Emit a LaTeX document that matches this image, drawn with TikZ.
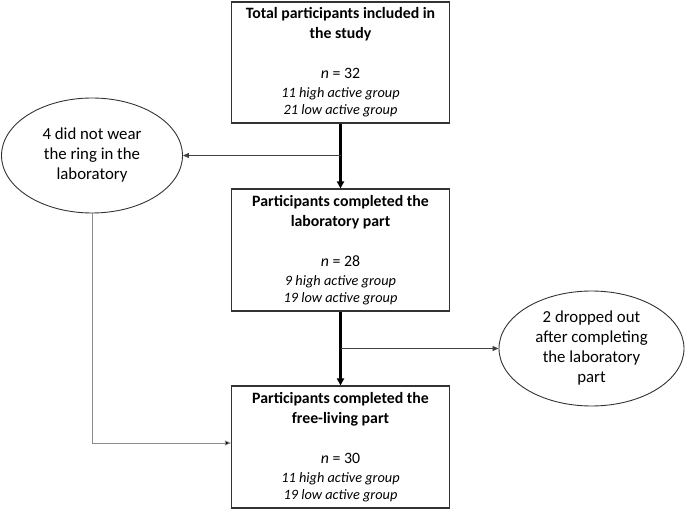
\documentclass[tikz,border=0pt]{standalone}
\usepackage{fontspec}
\setmainfont{Carlito}
\usetikzlibrary{shapes.geometric,arrows.meta}
\begin{document}
\begin{tikzpicture}[x=1pt,y=-1pt,
  box/.style={draw=black!80,line width=1.1pt,rectangle,minimum width=218pt,minimum height=121pt,inner sep=0pt,align=center,font=\fontsize{15.8}{20}\selectfont},
  oval/.style={draw=black!80,line width=0.9pt,ellipse,inner sep=0pt,align=center,font=\fontsize{16.8}{20}\selectfont},
  thick arrow/.style={line width=2.4pt,-{Triangle[length=7pt,width=7pt]}},
  thin arrow/.style={line width=0.8pt,draw=black!75,-{Triangle[length=6pt,width=5pt]}},
  grey arrow/.style={line width=0.8pt,draw=black!45,-{Triangle[length=6pt,width=5pt,fill=black]}}]
\useasboundingbox (0,0) rectangle (685,510);
\newcommand{\grp}[1]{{\fontsize{14.3}{15}\selectfont\itshape #1}}
\node[box] (b1) at (340.5,62.5) {\textbf{Total participants included in}\\\textbf{the study}\\[20pt]\textit{n} = 32\\[-1pt]\grp{11 high active group}\\[-3pt]\grp{21 low active group}};
\node[box,minimum height=122pt] (b2) at (340.5,250) {\textbf{Participants completed the}\\\textbf{laboratory part}\\[20pt]\textit{n} = 28\\[-1pt]\grp{9 high active group}\\[-3pt]\grp{19 low active group}};
\node[box,minimum height=122pt] (b3) at (340.5,447) {\textbf{Participants completed the}\\\textbf{free-living part}\\[20pt]\textit{n} = 30\\[-1pt]\grp{11 high active group}\\[-3pt]\grp{19 low active group}};
\node[oval,minimum width=181pt,minimum height=115pt] (e1) at (92,155.5) {4 did not wear\\the ring in the\\laboratory};
\node[oval,minimum width=185pt,minimum height=115pt] (e2) at (591.5,348.5) {2 dropped out\\after completing\\the laboratory\\part};
\coordinate (j1) at (b1.south |- e1.east);
\coordinate (j2) at (b2.south |- e2.west);
\coordinate (c3) at (e1.south |- 0,443);
\draw[thick arrow] (b1.south) -- (b2.north);
\draw[thick arrow] (b2.south) -- (b3.north);
\draw[thin arrow] (j1) -- (e1.east);
\draw[thin arrow] (j2) -- (e2.west);
\draw[grey arrow] (e1.south) -- (c3) -- (c3 -| b3.west);
\end{tikzpicture}
\end{document}
